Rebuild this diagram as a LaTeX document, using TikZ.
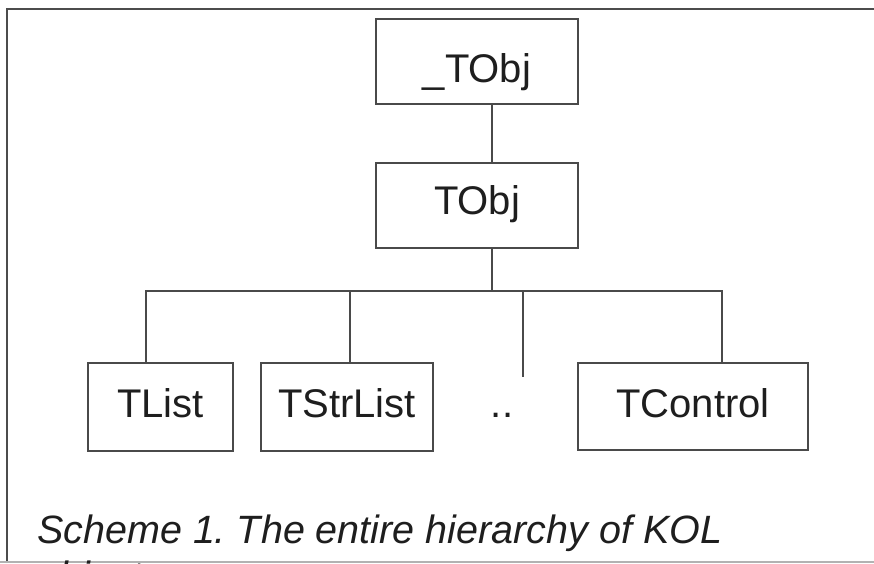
\documentclass[tikz,border=0pt]{standalone}
\usepackage{fontspec}
\setmainfont{Liberation Sans}
\definecolor{linegray}{HTML}{4A4A4A}
\definecolor{textgray}{HTML}{1E1E1E}
\tikzset{
  cls/.style={draw=linegray, line width=2pt, rectangle, inner sep=0pt, anchor=base,
    font=\fontsize{40}{46}\selectfont, text=textgray},
  conn/.style={draw=linegray, line width=2pt},
  framel/.style={draw=black!70, line width=2.5pt},
  caption/.style={anchor=base west, inner sep=0pt, font=\fontsize{39.5}{46}\selectfont\itshape\frenchspacing, text=textgray}
}
\begin{document}
\begin{tikzpicture}[x=1pt,y=-1pt]
\useasboundingbox (0,0) rectangle (874,563);
\clip (0,0) rectangle (874,563);
\fill[white] (0,0) rectangle (874,563);
% frame
\draw[framel] (7,563) -- (7,9) -- (880,9);
\draw[black!30, line width=1.5pt] (0,562) -- (874,562);
% class boxes
\node[cls, minimum width=202pt, text height=63pt, text depth=22pt] (base) at (477,82) {\_TObj};
\node[cls, minimum width=202pt, text height=51pt, text depth=34pt] (tobj) at (477,214) {TObj};
\node[cls, minimum width=145pt, text height=54pt, text depth=34pt] (tlist) at (160.5,417) {TList};
\node[cls, minimum width=172pt, text height=54pt, text depth=34pt] (tstrlist) at (347,417) {TStrList};
\node[anchor=base, inner sep=0pt, font=\fontsize{40}{46}\selectfont, text=textgray] (dots) at (502,417) {..};
\node[cls, minimum width=230pt, text height=54pt, text depth=33pt] (tcontrol) at (693,417) {TControl};
% connectors
\coordinate (hub) at (492,291);
\coordinate (barL) at (146,291);
\coordinate (barR) at (722,291);
\coordinate (dangle) at (523,377);
\draw[conn] ([xshift=15pt]base.south) -- ([xshift=15pt]tobj.north);
\draw[conn] ([xshift=15pt]tobj.south) -- (hub);
\draw[conn] ([xshift=-14.5pt]tlist.north) -- (barL) -- (barR) -- ([xshift=29pt]tcontrol.north);
\draw[conn] ([xshift=3pt]tstrlist.north) -- ([xshift=3pt]tstrlist.north |- barL);
\draw[conn] (dangle |- barL) -- (dangle);
% caption
\node[caption] (cap1) at (37,543) {Scheme 1. The entire hierarchy of KOL};
\node[caption] (cap2) at (37,589) {objects};
\end{tikzpicture}
\end{document}
